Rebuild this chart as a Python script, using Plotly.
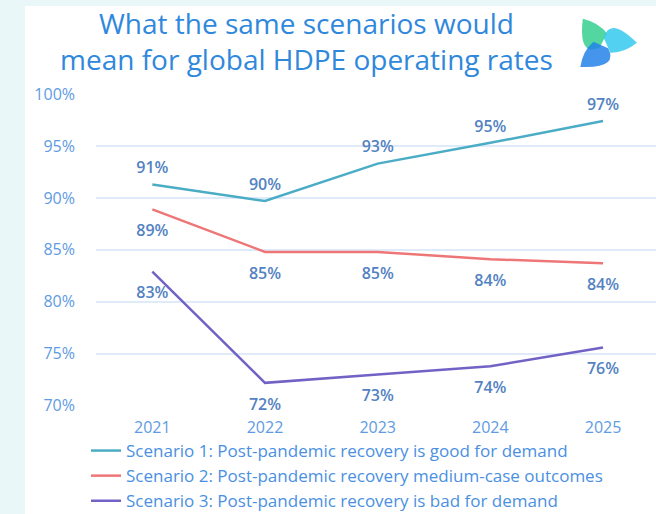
import math
import plotly.graph_objects as go

# Global HDPE operating rates (%) under three post-pandemic demand scenarios
years = ["2021", "2022", "2023", "2024", "2025"]
scenario1 = [91.3, 89.7, 93.3, 95.3, 97.4]
scenario2 = [88.9, 84.8, 84.8, 84.1, 83.7]
scenario3 = [82.9, 72.2, 73.0, 73.8, 75.6]

names = [
    "Scenario 1: Post-pandemic recovery is good for demand",
    "Scenario 2: Post-pandemic recovery medium-case outcomes",
    "Scenario 3: Post-pandemic recovery is bad for demand",
]
line_colors = ["#4bacc6", "#ee7677", "#7262c6"]
label_positions = ["top center", "bottom center", "bottom center"]
# invisible markers set how far each value label sits from its point
label_pads = [10, 22, 22]

y_ticks = [70, 75, 80, 85, 90, 95, 100]
y_tick_text = [f"{v}%" for v in y_ticks]

title_text = "What the same scenarios would<br>mean for global HDPE operating rates"

FONT = "Open Sans"
W, H = 656, 514
# plot area in pixels
PL, PR, PT, PB = 96, 656, 94, 405.7


def px(x):
    return x / W


def py(y):
    return (H - y) / H


fig = go.Figure()
for name, vals, color, pos, pad in zip(names, [scenario1, scenario2, scenario3],
                                       line_colors, label_positions, label_pads):
    fig.add_trace(go.Scatter(
        x=years, y=vals, name=name, legendgroup=name,
        mode="lines+markers+text",
        line=dict(color=color, width=2.5),
        marker=dict(size=pad, color="rgba(0,0,0,0)"),
        texttemplate="%{y:.0f}%", textposition=pos,
        textfont=dict(family=FONT, size=16, color="#5382c2", weight=600),
        cliponaxis=False, hoverinfo="skip",
    ))

# white card behind the chart
shapes = [dict(type="rect", xref="paper", yref="paper", layer="below",
               x0=px(25), x1=1, y0=0, y1=py(6),
               fillcolor="white", line=dict(width=0))]

# three-bladed swirl logo next to the title
cx, cy, R = 604, 44, 33
blade_colors = ["#35cf8f", "#34c9ee", "#2582ea"]
blade_angles = [-130, -2, 136]
template = [(0, -6), (R * 0.2, -R * 0.85), (R, 0), (R * 0.6, R * 0.3), (6, 9)]
for ang, col in zip(blade_angles, blade_colors):
    a = math.radians(ang)
    pts = []
    for u, v in template:
        X = cx + u * math.cos(a) - v * math.sin(a)
        Y = cy + u * math.sin(a) + v * math.cos(a)
        pts.append((px(X), py(Y)))
    p = pts
    path = (f"M {p[0][0]},{p[0][1]} Q {p[1][0]},{p[1][1]} {p[2][0]},{p[2][1]} "
            f"Q {p[3][0]},{p[3][1]} {p[4][0]},{p[4][1]} Z")
    shapes.append(dict(type="path", xref="paper", yref="paper", path=path,
                       fillcolor=col, opacity=0.85, line=dict(width=0)))

annotations = [dict(
    text=title_text, xref="paper", yref="paper", x=px(306), y=py(41),
    xanchor="center", yanchor="middle", showarrow=False, align="center",
    font=dict(family=FONT, size=28, color="#2f88dc", weight=500),
)]

fig.update_layout(
    width=W, height=H,
    margin=dict(l=0, r=0, t=0, b=0, autoexpand=False),
    paper_bgcolor="#eaf7f9", plot_bgcolor="white",
    xaxis=dict(
        domain=[px(PL), px(PR)], automargin=False,
        range=[-0.5, 4.47], showgrid=False, zeroline=False, showline=False,
        tickfont=dict(family=FONT, size=16, color="#5e9be2"),
        ticklabelstandoff=10,
    ),
    yaxis=dict(
        domain=[py(PB), py(PT)], automargin=False,
        range=[70, 100], tickvals=y_ticks, ticktext=y_tick_text,
        showgrid=True, gridcolor="#e0ebfa", gridwidth=1.8,
        zeroline=False, showline=False,
        tickfont=dict(family=FONT, size=16, color="#5e9be2"),
        ticklabelstandoff=20,
    ),
    showlegend=True,
    legend=dict(
        x=px(86), xanchor="left", y=py(433), yanchor="top",
        bgcolor="rgba(0,0,0,0)", tracegroupgap=0,
        font=dict(family=FONT, size=17, color="#4a90e2"),
    ),
    annotations=annotations,
    shapes=shapes,
)

fig.write_html("out.html")
